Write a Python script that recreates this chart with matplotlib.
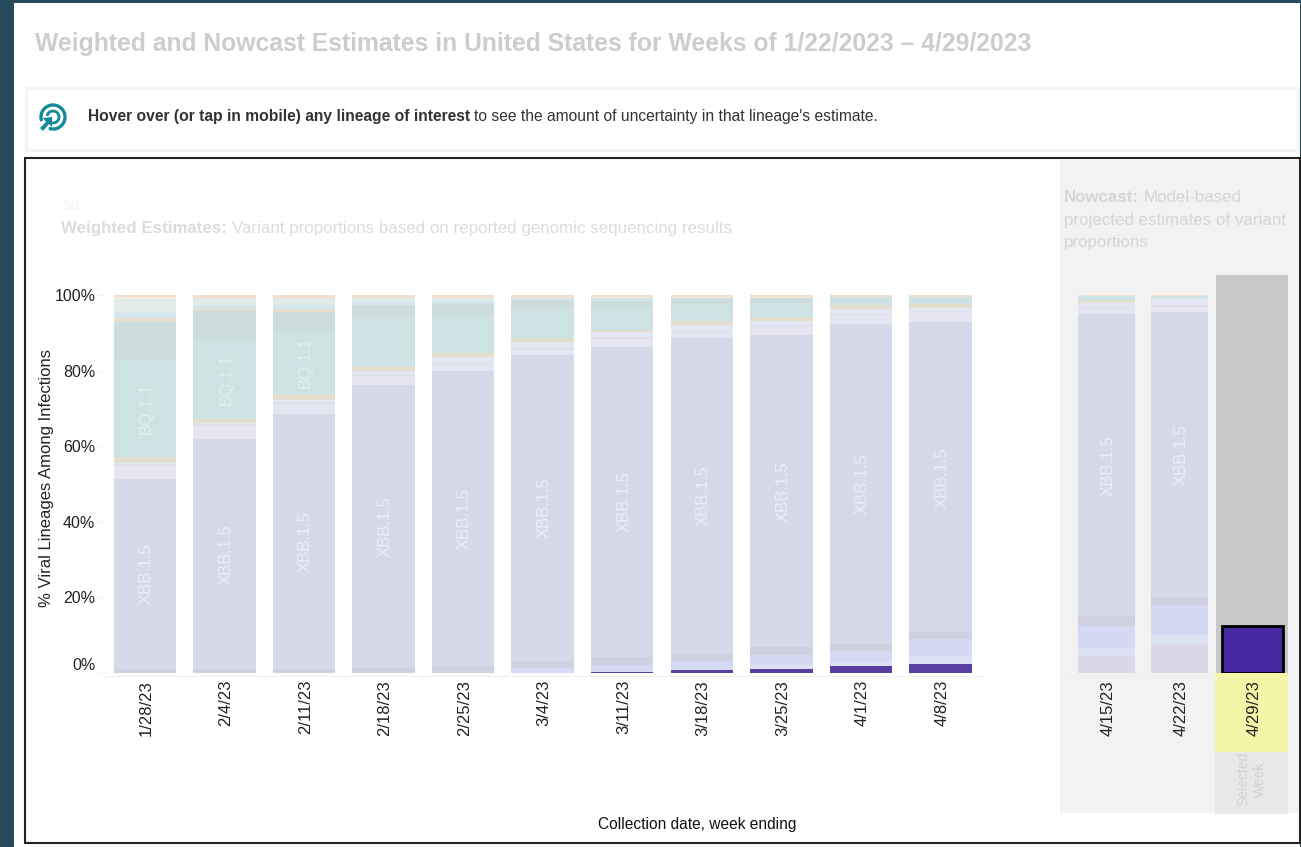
import matplotlib
matplotlib.use("Agg")
import numpy as np
import matplotlib.pyplot as plt
from matplotlib.patches import Rectangle, Arc, Polygon
from matplotlib.transforms import ScaledTranslation

plt.rcParams['font.family'] = ['Liberation Sans', 'DejaVu Sans']

W, H = 1301, 847

# week ending dates, 11 weighted + 2 nowcast, then the selected week
weeks = ['1/28/23', '2/4/23', '2/11/23', '2/18/23', '2/25/23', '3/4/23', '3/11/23',
         '3/18/23', '3/25/23', '4/1/23', '4/8/23', '4/15/23', '4/22/23']
selected_week = '4/29/23'
selected_value = 12.4
selected_bg = 105.3

# lineage shares per week, bottom of the stack first
purple = [0, 0, 0, 0, 0, 0, .35, .8, 1.1, 1.8, 2.5, 0, 0]
mauve = [0, 0, 0, 0, 0, 0, 0, 0, 0, 0, 0, 4.5, 7.6]
pale_lav = [0, 0, 0, 0, 0, 0, 0, 0, 1.0, 1.1, 1.9, 2.2, 2.46]
light_lav = [0, 0, 0, 0, 0, 1.3, 1.8, 2.4, 2.6, 3.0, 4.6, 5.8, 7.66]
grey = [1, 1, 1, 1.3, 1.8, 1.9, 2.1, 1.7, 2.1, 1.9, 1.9, 2.45, 2.38]
xbb = [50.4, 60.85, 67.65, 74.84, 78.13, 80.91, 82.1, 83.83, 82.55, 84.59, 81.85, 80.12, 75.41]
light = [3.4, 3.4, 2.5, 2.56, 1.76, 1.4, 2.0, 1.4, 2.3, 2.3, 2.65, 1.4, 1.4]
thin = [.4, .5, .5, .53, .35, .53, .45, .45, .5, .35, .35, .35, .53]
peri = [.4, .5, .7, .7, 1.6, 1.4, 1.3, 1.4, 1.0, 1.15, .8, 1.15, 1.5]
tan = [1.5, 1, 1.5, .97, 1.06, 1.15, .7, 1.06, 1.15, 1.06, 1.15, .8, 0]
bq = [25.8, 21, 16.6, 13.05, 9.9, 7.6, 6.1, 4.3, 3.5, 2.3, 1.85, .97, .8]
grey_teal = [9.9, 7.6, 5, 3.4, 3.1, 2.56, 1.6, 1.76, 1.3, 0, 0, 0, 0]
tan_up = [1.15, .5, .9, 0, 0, 0, 0, 0, 0, 0, 0, 0, 0]
light_blue = [1.5, 1.05, 1.05, .7, .8, .35, .6, 0, 0, 0, 0, 0, 0]
pale_teal = [3.5, 1.9, 1.9, 1.15, .7, 0, 0, 0, 0, 0, 0, 0, 0]
yellow = [.6, 0, 0, 0, 0, 0, .45, .45, .45, 0, 0, 0, 0]
orange = [.45, .7, .7, .8, .8, .9, .45, .45, .45, .45, .45, .26, .26]

series = [purple, mauve, pale_lav, light_lav, grey, xbb, light, thin, peri, tan, bq,
          grey_teal, tan_up, light_blue, pale_teal, yellow, orange]
colors = ['#5a3fa3', '#dcd8e8', '#dde1f4', '#d5d9f4', '#d0d1e0', '#d6d9ea', '#e6e6f2', '#dfdfe8',
          '#e3e6f4', '#e3dfcc', '#cde2e2', '#cddcdc', '#e3dfcc', '#d3e6ec', '#e1ecea', '#efeedd', '#f2dfd0']
XBB_IDX = series.index(xbb)
BQ_IDX = series.index(bq)

fig = plt.figure(figsize=(W / 100, H / 100), dpi=100, facecolor='white')
nudge = ScaledTranslation(0.015, 0, fig.dpi_scale_trans)

# page furniture, drawn in pixel coordinates
bg = fig.add_axes([0, 0, 1, 1], zorder=0)
bg.set_xlim(0, W)
bg.set_ylim(H, 0)
bg.axis('off')


def box(x0, y0, x1, y1, **kw):
    bg.add_patch(Rectangle((x0, y0), x1 - x0, y1 - y0, **kw))


def parts(x, y, chunks, size, color):
    # bold + regular runs on one line
    for txt, weight in chunks:
        t = bg.text(x, y, txt, fontsize=size, color=color, fontweight=weight, va='center', ha='left')
        ext = t.get_window_extent(fig.canvas.get_renderer())
        x = ext.x1 + size * 0.38


box(0, 0, 14, H, fc='#264a5a', ec='none')
box(0, 0, W, 3, fc='#264a5a', ec='none')
box(1300, 0, W, H, fc='#264a5a', ec='none')

bg.text(35, 44, 'Weighted and Nowcast Estimates in United States for Weeks of 1/22/2023 \u2013 4/29/2023',
        fontsize=17.81, fontweight='bold', color='#cdcdcd', va='center')

box(26, 88, 1298, 150, fc='white', ec='#f3f3f3', lw=2)
parts(88, 117, [('Hover over (or tap in mobile) any lineage of interest', 'bold'),
                ("to see the amount of uncertainty in that lineage's estimate.", 'normal')], 11.25, '#333333')

# target icon
teal = '#14899c'
bg.add_patch(Arc((53, 117), 24, 24, theta1=-200, theta2=110, ec=teal, lw=2.4))
bg.add_patch(Arc((53, 117), 12, 12, theta1=-170, theta2=100, ec=teal, lw=2))
bg.add_patch(Polygon([[52, 117], [52, 127], [49, 124], [43, 131], [40, 128], [46, 122], [43, 118]],
                     fc=teal, ec='none'))

# chart frame and nowcast panel
box(1060, 160, 1298, 813, fc='#f2f2f2', ec='none')
box(1215, 673, 1288, 752, fc='#f5f5a8', ec='none')
box(1215, 752, 1288, 814, fc='#e8e8e8', ec='none')
box(25, 158, 1300, 843, fc='none', ec='#222222', lw=1.5, zorder=5)

bg.text(61, 205, 'aa', fontsize=12, color='#f6f6f6', va='center')
parts(61, 228, [('Weighted Estimates:', 'bold'),
                ('Variant proportions based on reported genomic sequencing results', 'normal')], 12.2, '#dcdcdc')
parts(1064, 198, [('Nowcast:', 'bold'), ('Model-based', 'normal')], 12.2, '#d6d6d6')
bg.text(1064, 220, 'projected estimates of variant', fontsize=12.2, color='#d6d6d6', va='center')
bg.text(1064, 242, 'proportions', fontsize=12.2, color='#d6d6d6', va='center')
bg.text(1251.5, 779, 'Selected\nWeek', fontsize=10, color='#d2d2d2', rotation=90, ha='center', va='center',
        linespacing=1.3, multialignment='center')
bg.text(697, 824, 'Collection date, week ending', fontsize=11.2, color='#111111', ha='center', va='center')


def axes_px(x0, y0, x1, y1):
    a = fig.add_axes([x0 / W, 1 - y1 / H, (x1 - x0) / W, (y1 - y0) / H], zorder=2)
    a.patch.set_alpha(0)
    for s in a.spines.values():
        s.set_visible(False)
    return a


def stack(a, xs, idx, width):
    bottom = np.zeros(len(idx))
    for i, (vals, c) in enumerate(zip(series, colors)):
        v = np.array(vals)[idx]
        a.bar(xs, v, width=width, bottom=bottom, color=c, linewidth=0)
        if i == XBB_IDX:
            for x, b, h in zip(xs, bottom, v):
                a.text(x, b + h / 2, 'XBB.1.5', rotation=90, ha='center', va='center', rotation_mode='anchor',
                       fontsize=12, color='#ecedf5', transform=a.transData + nudge)
        if i == BQ_IDX:
            for x, b, h in zip(xs, bottom, v):
                if h > 15:
                    a.text(x, b + h / 2, 'BQ.1.1', rotation=90, ha='center', va='center', rotation_mode='anchor',
                           fontsize=12, color='#e4efef', transform=a.transData + nudge)
        bottom = bottom + v


def x_axis(a, xs, labels, edges):
    a.spines['bottom'].set_visible(True)
    a.spines['bottom'].set_color('#f0f0f0')
    a.spines['bottom'].set_position(('outward', 2))
    a.set_xticks(xs)
    a.set_xticklabels(labels, rotation=90, ha='right', va='center', rotation_mode='anchor',
                      fontsize=12, color='#222222')
    a.set_xticks(edges, minor=True)
    a.tick_params(axis='x', which='major', length=0, pad=3)
    a.tick_params(axis='x', which='minor', length=3, color='#f0f0f0')
    for lab in a.get_xticklabels():
        lab.set_transform(lab.get_transform() + nudge)


# weighted estimates
ax = axes_px(105, 295, 985, 673)
xs = np.arange(11)
stack(ax, xs, np.arange(11), 0.785)
ax.set_xlim(-0.496, 10.56)
ax.set_ylim(0, 100)
x_axis(ax, xs, weeks[:11], np.arange(-0.5, 11, 1))
ax.set_yticks([0, 20, 40, 60, 80, 100])
ax.set_yticklabels(['0%', '20%', '40%', '60%', '80%', '100%'], fontsize=11.5, color='#222222')
ax.tick_params(axis='y', length=5, color='#f0f0f0', pad=2)
ax.get_yticklabels()[0].set_va('bottom')
ax.set_ylabel('% Viral Lineages Among Infections', fontsize=11.95, color='#222222')
ax.yaxis.set_label_coords(-0.058, 0.517)

# nowcast weeks and the selected week
nx = axes_px(1060, 275, 1298, 673)
nxs = np.arange(2)
stack(nx, nxs, np.arange(11, 13), 0.78)
nx.bar([2], [selected_bg], width=0.986, color='#c8c8c8', linewidth=0)
nx.bar([2], [selected_value], width=0.835, color='#4527a0', edgecolor='black', linewidth=2)
nx.set_xlim(-0.637, 2.624)
nx.set_ylim(0, selected_bg)
x_axis(nx, [0, 1, 2], weeks[11:] + [selected_week], [-0.5, 0.5, 1.5])
nx.spines['bottom'].set_bounds(-0.637, 1.5)
nx.set_yticks([])

fig.savefig('out.png', dpi=100)
